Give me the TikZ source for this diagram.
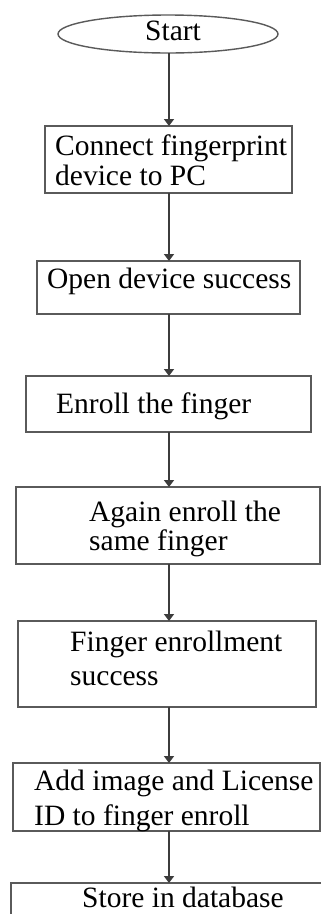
\documentclass[tikz,border=0pt]{standalone}
\usepackage{fontspec}
\setmainfont{Liberation Serif}
\usetikzlibrary{arrows.meta,shapes.geometric}
\definecolor{edgegray}{HTML}{5A5A5A}
\definecolor{linegray}{HTML}{3C3C3C}
\tikzset{
  box/.style={draw=edgegray, line width=1.8pt, rectangle, inner sep=0pt, outer sep=0pt},
  txt/.style={anchor=base west, inner sep=0pt, font=\fontsize{29.5}{33}\selectfont},
  arr/.style={draw=linegray, line width=2.6pt, -{Triangle[width=10pt,length=7pt]}}
}
\begin{document}
\begin{tikzpicture}[x=1pt,y=-1pt]
\clip (0,0) rectangle (321,914);
\fill[white] (0,0) rectangle (321,914);
\coordinate (ax) at (169,0);
% shapes
\node[draw=edgegray, line width=1.4pt, ellipse, minimum width=220pt, minimum height=38pt, inner sep=0pt, outer sep=0pt] (start) at (168,34) {};
\node[box, minimum width=247pt, minimum height=67pt] (b1) at (168.5,159.5) {};
\node[box, minimum width=263pt, minimum height=53pt] (b2) at (168.5,287.5) {};
\node[box, minimum width=285pt, minimum height=56pt] (b3) at (168.5,404) {};
\node[box, minimum width=304pt, minimum height=77pt] (b4) at (168,525.5) {};
\node[box, minimum width=298pt, minimum height=86pt] (b5) at (167,664) {};
\node[box, minimum width=307pt, minimum height=68pt] (b6) at (166.5,797) {};
\node[box, minimum width=330pt, minimum height=60pt] (b7) at (176,913) {};
% texts
\node[txt] (t0) at (145,40) {Start};
\node[txt] (t1a) at (55,155) {Connect fingerprint};
\node[txt] (t1b) at (55,185) {device to PC};
\node[txt] (t2) at (47,288) {Open device success};
\node[txt] (t3) at (56,413) {Enroll the finger};
\node[txt] (t4a) at (89,521) {Again enroll the};
\node[txt] (t4b) at (89,550) {same finger};
\node[txt] (t5a) at (70,651) {Finger enrollment};
\node[txt] (t5b) at (70,685) {success};
\node[txt] (t6a) at (34,790) {Add image and License};
\node[txt] (t6b) at (34,825) {ID to finger enroll};
\node[txt] (t7) at (82,907) {Store in database};
% connectors
\draw[arr] (ax |- start.south) -- (ax |- b1.north);
\draw[arr] (ax |- b1.south) -- (ax |- b2.north);
\draw[arr] (ax |- b2.south) -- (ax |- b3.north);
\draw[arr] (ax |- b3.south) -- (ax |- b4.north);
\draw[arr] (ax |- b4.south) -- (ax |- b5.north);
\draw[arr] (ax |- b5.south) -- (ax |- b6.north);
\draw[arr] (ax |- b6.south) -- (ax |- b7.north);
\end{tikzpicture}
\end{document}
